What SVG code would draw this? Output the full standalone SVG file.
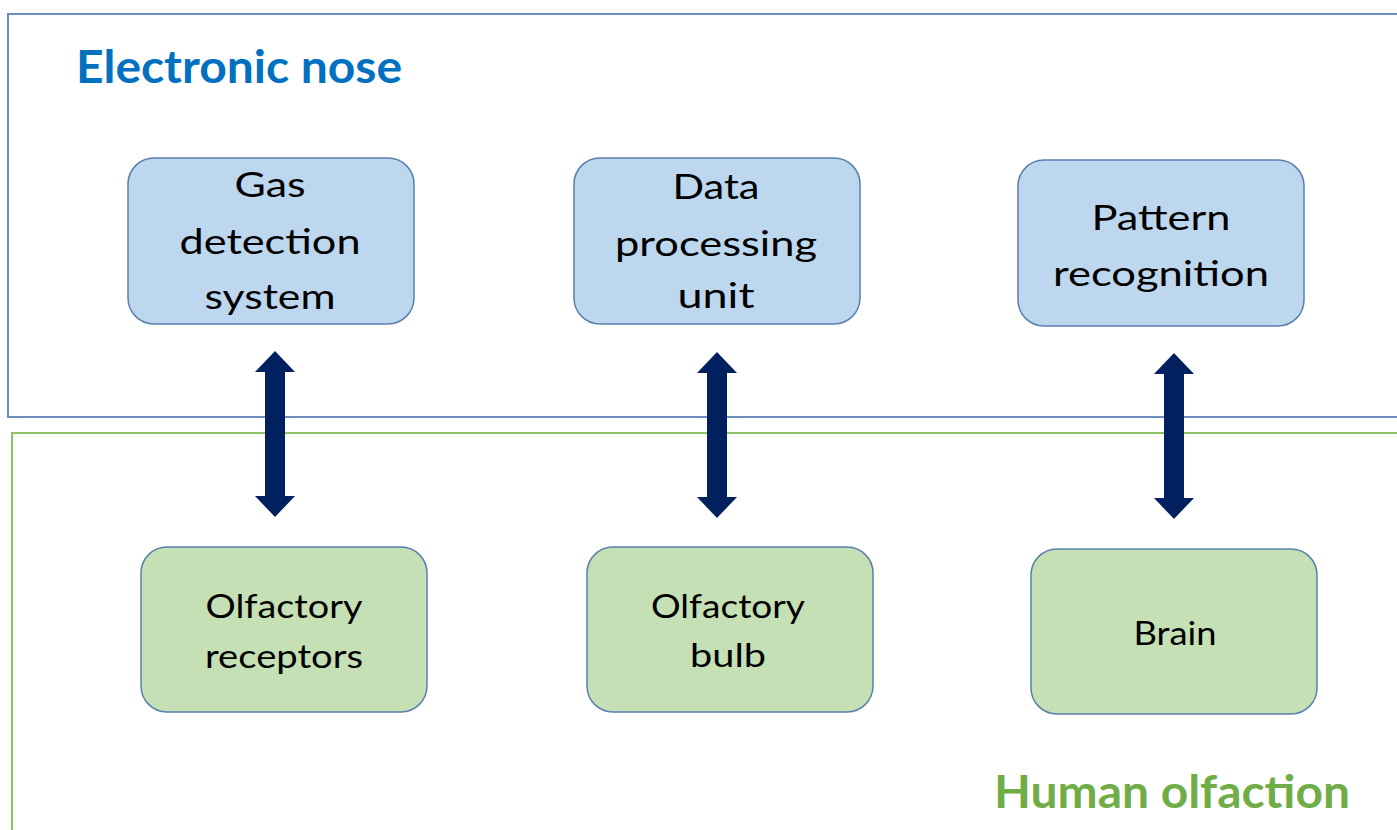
<svg xmlns="http://www.w3.org/2000/svg" width="1397" height="830" viewBox="0 0 1397 830">
<style>
.frame-e{fill:none;stroke:#6C8EBF;stroke-width:2}
.frame-h{fill:none;stroke:#8CC168;stroke-width:2}
.bbox{fill:#BDD7EE;stroke:#5A7FAE;stroke-width:1.5}
.gbox{fill:#C5E0B4;stroke:#5A7FAE;stroke-width:1.5}
.t1{font-family:Lato,"Liberation Sans",sans-serif;font-size:34px;fill:#000;text-anchor:middle}
.t2{font-family:Lato,"Liberation Sans",sans-serif;font-size:32px;fill:#000;text-anchor:middle}
.title{font-family:Lato,"Liberation Sans",sans-serif;font-size:46px;font-weight:bold}
.arrow{fill:#002060}
</style>
<defs>
<path id="darrow" d="M0,0 L20,21 L10,21 L10,145 L20,145 L0,166 L-20,145 L-10,145 L-10,21 L-20,21 Z"/>
</defs>
<g id="electronic-nose">
<rect class="frame-e" x="8" y="14" width="1400" height="403"/>
<text class="title" x="76" y="83" fill="#0070C0" textLength="326" lengthAdjust="spacingAndGlyphs">Electronic nose</text>
</g>
<g id="human-olfaction">
<rect class="frame-h" x="12" y="433" width="1400" height="410"/>
<text class="title" x="994" y="808" fill="#70AD47" textLength="356" lengthAdjust="spacingAndGlyphs">Human olfaction</text>
</g>
<g id="gas-detection">
<rect class="bbox" x="128" y="158" width="286" height="166" rx="26"/>
<text class="t1" x="270" y="197" textLength="71" lengthAdjust="spacingAndGlyphs">Gas</text>
<text class="t1" x="270" y="254" textLength="181" lengthAdjust="spacingAndGlyphs">detection</text>
<text class="t1" x="270" y="309" textLength="131" lengthAdjust="spacingAndGlyphs">system</text>
</g>
<g id="data-processing">
<rect class="bbox" x="574" y="158" width="286" height="166" rx="26"/>
<text class="t1" x="716" y="199" textLength="87" lengthAdjust="spacingAndGlyphs">Data</text>
<text class="t1" x="716" y="256" textLength="202" lengthAdjust="spacingAndGlyphs">processing</text>
<text class="t1" x="716" y="308" textLength="77" lengthAdjust="spacingAndGlyphs">unit</text>
</g>
<g id="pattern-recognition">
<rect class="bbox" x="1018" y="160" width="286" height="166" rx="26"/>
<text class="t1" x="1161" y="230" textLength="139" lengthAdjust="spacingAndGlyphs">Pattern</text>
<text class="t1" x="1161" y="286" textLength="216" lengthAdjust="spacingAndGlyphs">recognition</text>
</g>
<g id="olfactory-receptors">
<rect class="gbox" x="141" y="547" width="286" height="165" rx="26"/>
<text class="t2" x="284" y="618" textLength="157" lengthAdjust="spacingAndGlyphs">Olfactory</text>
<text class="t2" x="284" y="668" textLength="158" lengthAdjust="spacingAndGlyphs">receptors</text>
</g>
<g id="olfactory-bulb">
<rect class="gbox" x="587" y="547" width="286" height="165" rx="26"/>
<text class="t2" x="728" y="618" textLength="154" lengthAdjust="spacingAndGlyphs">Olfactory</text>
<text class="t2" x="728" y="667" textLength="76" lengthAdjust="spacingAndGlyphs">bulb</text>
</g>
<g id="brain">
<rect class="gbox" x="1031" y="549" width="286" height="165" rx="26"/>
<text class="t2" x="1175" y="645" textLength="83" lengthAdjust="spacingAndGlyphs">Brain</text>
</g>
<g id="connectors">
<use href="#darrow" class="arrow" transform="translate(275,351)"/>
<use href="#darrow" class="arrow" transform="translate(717,352)"/>
<use href="#darrow" class="arrow" transform="translate(1174,353)"/>
</g>
</svg>
